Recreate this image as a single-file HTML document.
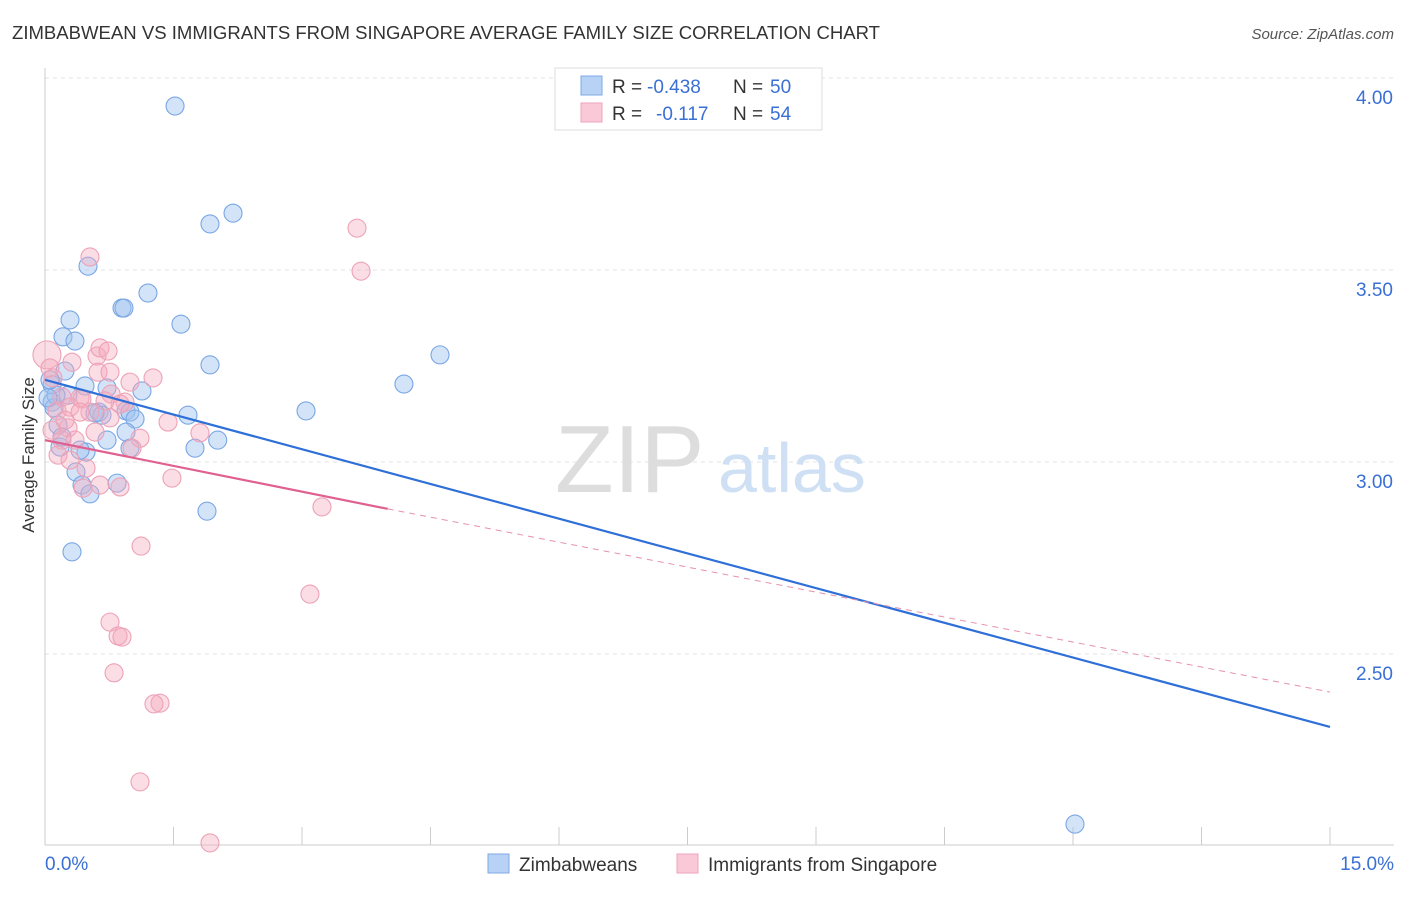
<!DOCTYPE html>
<html><head><meta charset="utf-8"><style>
body{margin:0;background:#fff;font-family:"Liberation Sans",sans-serif;}
svg text{font-family:"Liberation Sans",sans-serif;}
</style></head><body>
<svg width="1406" height="892" viewBox="0 0 1406 892">
<text x="12" y="39" font-size="18" fill="#333" textLength="868" lengthAdjust="spacingAndGlyphs">ZIMBABWEAN VS IMMIGRANTS FROM SINGAPORE AVERAGE FAMILY SIZE CORRELATION CHART</text>
<text x="1394" y="39" font-size="15" fill="#555" font-style="italic" text-anchor="end">Source: ZipAtlas.com</text>
<g id="grid"></g>
<g>
<text x="555" y="492" font-size="96" font-family="Liberation Serif" fill="#ddd">ZIP</text>
<text x="718" y="492" font-size="70" fill="#cfe0f5">atlas</text></g>
<g id="axes"></g>
<g id="pts"></g>
<g id="lines"></g>
<text x="34" y="455" font-size="17" fill="#333" text-anchor="middle" transform="rotate(-90 34 455)">Average Family Size</text>
<g>
<rect x="555" y="68" width="267" height="62" fill="#fff" stroke="#ddd"/>
<rect x="581" y="76" width="21" height="19" fill="#b8d2f5" stroke="#7fa8e6"/>
<rect x="581" y="103" width="21" height="19" fill="#fac8d6" stroke="#eea4b9"/>
<text x="612" y="93" font-size="19" fill="#333">R =</text>
<text x="647" y="93" font-size="19" fill="#3a6fd6">-0.438</text>
<text x="733" y="93" font-size="19" fill="#333">N =</text>
<text x="770" y="93" font-size="19" fill="#3a6fd6">50</text>
<text x="612" y="120" font-size="19" fill="#333">R =</text>
<text x="656" y="120" font-size="19" fill="#3a6fd6">-0.117</text>
<text x="733" y="120" font-size="19" fill="#333">N =</text>
<text x="770" y="120" font-size="19" fill="#3a6fd6">54</text>
</g>
<g>
<rect x="488" y="854" width="21" height="19" fill="#b8d2f5" stroke="#7fa8e6"/>
<text x="519" y="871" font-size="19" fill="#333">Zimbabweans</text>
<rect x="677" y="854" width="21" height="19" fill="#fac8d6" stroke="#eea4b9"/>
<text x="708" y="871" font-size="19" fill="#333">Immigrants from Singapore</text>
</g>
</svg>
<script>
const xTicks=[0,1.5,3,4.5,6,7.5,9,10.5,12,13.5,15];
const yTicks=[2.5,3.0,3.5,4.0];
const yTickLabels=["2.50","3.00","3.50","4.00"];
const blueX=[1.518,2.195,1.926,0.502,1.202,0.899,0.922,1.587,0.292,0.210,0.350,1.926,4.611,4.190,0.233,0.082,0.467,0.724,1.132,0.082,0.268,0.105,0.946,0.992,0.630,1.669,3.047,1.051,0.152,0.946,0.724,2.016,0.175,1.751,0.479,0.992,0.362,0.432,0.841,0.525,1.891,0.315,12.023,0.128,0.058,0.035,0.665,0.409,0.198,0.584];
const blueY=[3.927,3.648,3.620,3.510,3.440,3.401,3.401,3.359,3.370,3.326,3.315,3.253,3.279,3.203,3.237,3.201,3.198,3.193,3.185,3.156,3.174,3.141,3.133,3.130,3.130,3.122,3.133,3.112,3.096,3.078,3.057,3.057,3.039,3.036,3.026,3.036,2.974,2.940,2.945,2.917,2.872,2.766,2.057,3.174,3.214,3.167,3.122,3.031,3.065,3.128];
const pinkX=[0.023,0.058,0.093,0.607,0.642,0.736,0.619,0.759,0.315,0.198,0.992,0.771,1.261,0.409,0.432,0.934,0.140,0.292,0.759,0.876,0.525,1.436,1.809,0.269,0.198,0.350,1.109,0.152,0.292,0.479,1.016,0.876,0.642,1.482,0.444,3.233,3.642,3.689,0.525,1.121,3.093,0.759,0.853,0.899,0.806,1.343,1.272,1.109,1.926,0.409,0.082,0.233,0.584,0.701];
const pinkY=[3.279,3.245,3.219,3.276,3.297,3.289,3.234,3.234,3.260,3.169,3.208,3.177,3.219,3.167,3.164,3.156,3.133,3.143,3.115,3.151,3.130,3.104,3.076,3.089,3.057,3.057,3.062,3.018,3.005,2.984,3.036,2.935,2.940,2.958,2.932,2.883,3.609,3.497,3.534,2.781,2.656,2.583,2.547,2.544,2.451,2.372,2.370,2.167,2.008,3.130,3.083,3.109,3.078,3.159];
const blueTrend=[[0,3.214],[15,2.31]];
const pinkTrend=[[0,3.057],[4.0,2.878],[15,2.401]];
const X=v=>45+v*(1285/15), Y=v=>78+(4-v)*384;
const NS="http://www.w3.org/2000/svg";
function mk(t,a,p){const e=document.createElementNS(NS,t);for(const k in a)e.setAttribute(k,a[k]);p.appendChild(e);return e;}
const grid=document.getElementById('grid'),axes=document.getElementById('axes'),pts=document.getElementById('pts'),lines=document.getElementById('lines');
yTicks.forEach((v,i)=>{const l=mk('line',{x1:45,x2:1394,y1:Y(v),y2:Y(v),stroke:'#e3e3e3','stroke-dasharray':'4 4'},grid);

const t=mk('text',{x:1393,y:Y(v)+26,'font-size':19,fill:'#3a6fd6','text-anchor':'end'},axes);t.textContent=yTickLabels[i];
});
const ax=mk('line',{x1:45,x2:1394,y1:845,y2:845,stroke:'#ccc'},axes);
const ay=mk('line',{x1:45,x2:45,y1:68,y2:845,stroke:'#ccc'},axes);
xTicks.forEach(v=>{const l=mk('line',{x1:X(v),x2:X(v),y1:827,y2:845,stroke:'#ccc'},axes);});
const t0=mk('text',{x:45,y:870,'font-size':19,fill:'#3a6fd6'},axes);t0.textContent='0.0%';
const t1=mk('text',{x:1394,y:870,'font-size':19,fill:'#3a6fd6','text-anchor':'end'},axes);t1.textContent='15.0%';
blueX.forEach((x,i)=>{const c=mk('circle',{cx:X(x),cy:Y(blueY[i]),r:9,fill:'rgba(160,196,240,0.45)',stroke:'#7aa6e4','stroke-width':1.1},pts);
});
pinkX.forEach((x,i)=>{const c=mk('circle',{cx:X(x),cy:Y(pinkY[i]),r:i==0?14:9,fill:'rgba(245,170,190,0.4)',stroke:'#eda2b6','stroke-width':1.1},pts);
});
const bl=mk('line',{x1:X(blueTrend[0][0]),y1:Y(blueTrend[0][1]),x2:X(blueTrend[1][0]),y2:Y(blueTrend[1][1]),stroke:'#2e6fd8','stroke-width':2.2},lines);

const pl=mk('line',{x1:X(pinkTrend[0][0]),y1:Y(pinkTrend[0][1]),x2:X(pinkTrend[1][0]),y2:Y(pinkTrend[1][1]),stroke:'#e06090','stroke-width':2.2},lines);

const pd=mk('line',{x1:X(pinkTrend[1][0]),y1:Y(pinkTrend[1][1]),x2:X(pinkTrend[2][0]),y2:Y(pinkTrend[2][1]),stroke:'#e890ac','stroke-width':1,'stroke-dasharray':'6 5'},lines);

</script>
</body></html>
